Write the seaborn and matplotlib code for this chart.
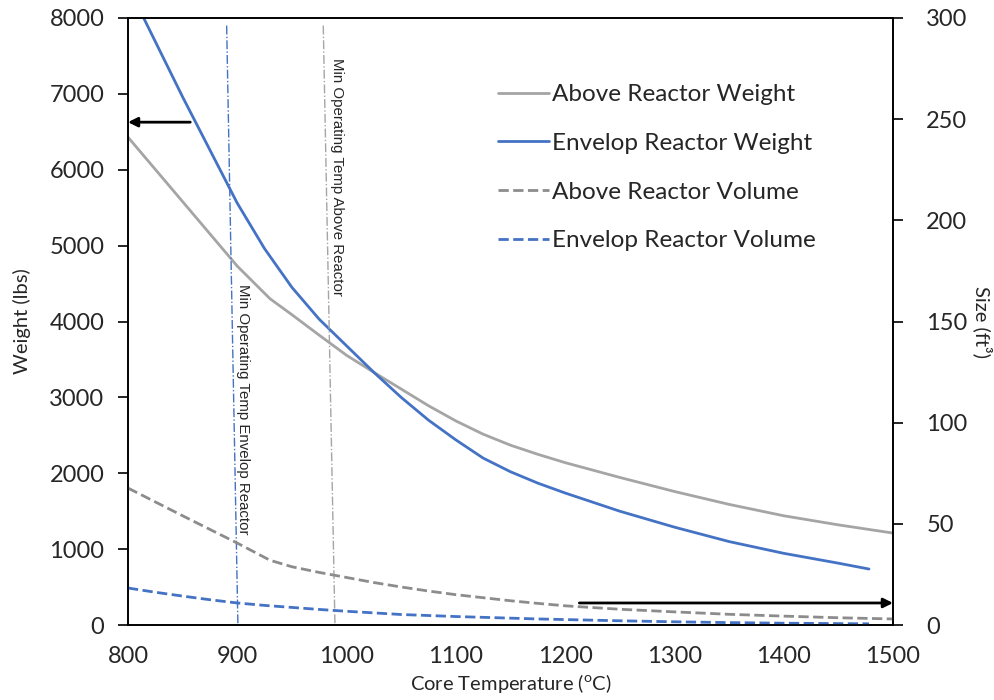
import matplotlib
matplotlib.use("Agg")
import matplotlib.pyplot as plt
import seaborn as sns

# ---- data ----
temp = [800, 850, 900, 930, 950, 975, 1000, 1025, 1050, 1075, 1100, 1125, 1150, 1175, 1200,
        1250, 1300, 1350, 1400, 1450, 1500]
above_weight = [6430, 5580, 4730, 4300, 4090, 3820, 3555, 3330, 3110, 2890, 2690, 2515, 2370, 2250, 2140,
                1945, 1760, 1590, 1440, 1320, 1212]
above_volume = [67.7, 54, 40.5, 32, 28.8, 26, 23.5, 21, 18.8, 16.8, 15, 13.5, 12, 10.7, 9.5,
                7.8, 6.5, 5.3, 4.4, 3.6, 3.0]

temp_env = [800, 825, 850, 875, 900, 925, 950, 975, 1000, 1025, 1050, 1075, 1100, 1125, 1150, 1175, 1200,
            1250, 1300, 1350, 1400, 1450, 1478]
env_weight = [8420, 7690, 6960, 6260, 5560, 4960, 4450, 4030, 3680, 3330, 3000, 2700, 2440, 2200, 2020, 1870, 1740,
              1500, 1290, 1100, 945, 815, 738]
env_volume = [18.3, 16.2, 14.3, 12.5, 10.9, 9.7, 8.7, 7.7, 6.8, 6.0, 5.2, 4.7, 4.2, 3.8, 3.4, 3.0, 2.7,
              2.1, 1.6, 1.2, 0.9, 0.7, 0.6]

# min operating temperature markers (slightly slanted in the original)
min_env_x = [890.3, 900.6]
min_above_x = [978.7, 989.4]
min_line_y = [7900, 0]

GRAY = "#A5A5A5"
GRAY_D = "#8C8C8C"
BLUE = "#4472C4"

sns.set_style("white")
plt.rcParams['font.family'] = ['Lato', 'DejaVu Sans']
plt.rcParams['mathtext.fontset'] = 'custom'
plt.rcParams['mathtext.rm'] = 'Lato'

fig = plt.figure(figsize=(9.95, 7.0), dpi=100)
ax = fig.add_axes([0.1286, 0.1071, 0.7689, 0.8672])
ax2 = ax.twinx()

sns.lineplot(x=temp, y=above_weight, ax=ax, color=GRAY, lw=2, label="Above Reactor Weight", legend=False)
sns.lineplot(x=temp_env, y=env_weight, ax=ax, color=BLUE, lw=2, label="Envelop Reactor Weight", legend=False)
sns.lineplot(x=temp, y=above_volume, ax=ax2, color=GRAY_D, lw=2, linestyle="--", label="Above Reactor Volume", legend=False)
sns.lineplot(x=temp_env, y=env_volume, ax=ax2, color=BLUE, lw=2, linestyle="--", label="Envelop Reactor Volume", legend=False)

ax.plot(min_env_x, min_line_y, color=BLUE, lw=1, linestyle="-.")
ax.plot(min_above_x, min_line_y, color=GRAY, lw=1, linestyle="-.")
ax.text(905, 2846, "Min Operating Temp Envelop Reactor", rotation=-90, ha="center", va="center",
        fontsize=10.8, family=['Liberation Sans', 'DejaVu Sans'])
ax.text(991, 5900, "Min Operating Temp Above Reactor", rotation=-90, ha="center", va="center",
        fontsize=10.8, family=['Liberation Sans', 'DejaVu Sans'])

# arrows pointing to the matching axis
ax.annotate("", xy=(800, 6627), xytext=(857, 6627),
            arrowprops=dict(arrowstyle="-|>", color="black", lw=2, mutation_scale=14, shrinkA=0, shrinkB=0))
ax2.annotate("", xy=(1500, 10.9), xytext=(1213, 10.9),
             arrowprops=dict(arrowstyle="-|>", color="black", lw=2, mutation_scale=14, shrinkA=0, shrinkB=0))

ax.set_xlim(800, 1500)
ax.set_ylim(0, 8000)
ax2.set_ylim(0, 300)
ax.set_xticks(range(800, 1501, 100))
ax.set_yticks(range(0, 8001, 1000))
ax2.set_yticks(range(0, 301, 50))

for a in (ax, ax2):
    for s in a.spines.values():
        s.set_color("black")
        s.set_linewidth(1.2)
    a.tick_params(direction="out", length=7, width=1.2, color="black", labelsize=17, pad=10)
ax.tick_params(axis="x", pad=8)
ax2.tick_params(axis="y", pad=17)

ax.set_xlabel(r"Core Temperature ($^{\mathrm{o}}$C)", fontsize=14.5, labelpad=4)
ax.set_ylabel("Weight (lbs)", fontsize=14.5, labelpad=13)
ax2.set_ylabel("Size (ft³)", fontsize=14.5, rotation=-90, labelpad=18)

h1, l1 = ax.get_legend_handles_labels()
h2, l2 = ax2.get_legend_handles_labels()
ax2.legend(h1[:2] + h2, l1[:2] + l2, loc="upper left", bbox_to_anchor=(0.484, 0.891),
           frameon=False, fontsize=17.5, handlelength=2.1, handletextpad=0.12,
           labelspacing=1.14, borderpad=0, borderaxespad=0)

fig.savefig("out.png", dpi=100)
